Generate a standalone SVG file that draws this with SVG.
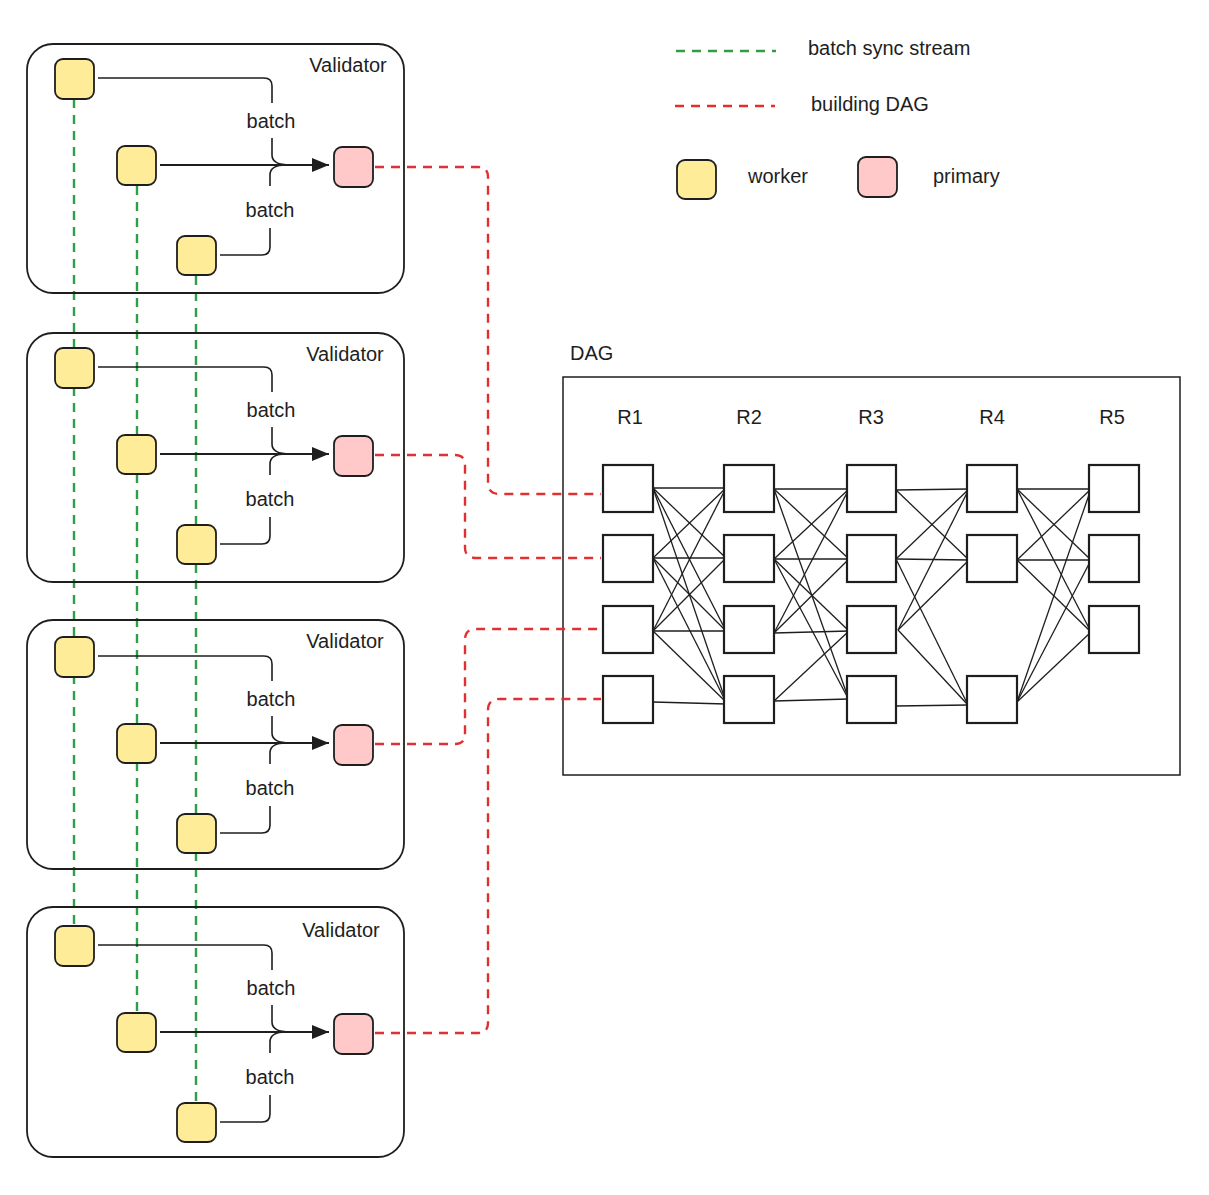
<svg xmlns="http://www.w3.org/2000/svg" width="1209" height="1195" viewBox="0 0 1209 1195">
<style>
text{font-family:"Liberation Sans","DejaVu Sans",sans-serif;fill:#1e1e1e;}
.lbl{font-size:20px;}
.vbox{fill:none;stroke:#1e1e1e;stroke-width:1.8;}
.worker{fill:#ffec99;stroke:#1e1e1e;stroke-width:1.8;}
.primary{fill:#ffc9c9;stroke:#1e1e1e;stroke-width:1.8;}
.dnode{fill:#ffffff;stroke:#1e1e1e;stroke-width:2.2;}
.frame{fill:none;stroke:#1e1e1e;stroke-width:1.5;}
.green{fill:none;stroke:#2f9e44;stroke-width:2.4;stroke-dasharray:9 7;}
.red{fill:none;stroke:#e03131;stroke-width:2.4;stroke-dasharray:9 7;}
.elbow{fill:none;stroke:#1e1e1e;stroke-width:1.6;}
.main{fill:none;stroke:#1e1e1e;stroke-width:2.2;}
.edge{stroke:#1e1e1e;stroke-width:1.3;}
</style>
<defs>
<marker id="bigah" markerWidth="18" markerHeight="16" refX="17" refY="8" orient="auto" markerUnits="userSpaceOnUse" viewBox="0 0 18 16">
<path d="M0,1 L17,8 L0,15 Z" fill="#1e1e1e"/>
</marker>
</defs>

<!-- Legend -->
<g id="legend">
<line x1="676" y1="51" x2="776" y2="51" class="green"/>
<text class="lbl" x="808" y="55">batch sync stream</text>
<line x1="675" y1="106" x2="775" y2="106" class="red"/>
<text class="lbl" x="811" y="111">building DAG</text>
<rect x="677" y="160" width="39" height="39" rx="8" class="worker"/>
<text class="lbl" x="748" y="183">worker</text>
<rect x="858" y="157" width="39" height="40" rx="8" class="primary"/>
<text class="lbl" x="933" y="183">primary</text>
</g>

<!-- DAG frame -->
<g id="dag">
<rect x="563" y="377" width="617" height="398" class="frame"/>
<text class="lbl" x="570" y="360">DAG</text>
<text class="lbl" x="630" y="424" text-anchor="middle" font-size="18">R1</text>
<text class="lbl" x="749" y="424" text-anchor="middle" font-size="18">R2</text>
<text class="lbl" x="871" y="424" text-anchor="middle" font-size="18">R3</text>
<text class="lbl" x="992" y="424" text-anchor="middle" font-size="18">R4</text>
<text class="lbl" x="1112" y="424" text-anchor="middle" font-size="18">R5</text>
</g>

<!-- Connectors -->
<g id="connectors">
<line x1="74" y1="99" x2="74" y2="926" class="green"/>
<line x1="137" y1="186" x2="137" y2="1011" class="green"/>
<line x1="196" y1="276" x2="196" y2="1102" class="green"/>
<path d="M375,167 H478 Q488,167 488,177 V483 Q488,494 500,494 H601" class="red"/>
<path d="M375,455 H455 Q465,455 465,465 V548 Q465,558 477,558 H601" class="red"/>
<path d="M375,744 H455 Q465,744 465,734 V640 Q465,629 476,629 H601" class="red"/>
<path d="M375,1033 H478 Q488,1033 488,1023 V710 Q488,699 500,699 H601" class="red"/>
<g id="v1-arrows">
<path d="M98,78 H264 Q272,78 272,86 V103" class="elbow"/>
<path d="M272,138 V155 Q272,165 290,165" class="elbow"/>
<path d="M220,255 H262 Q270,255 270,247 V228" class="elbow"/>
<path d="M270,186 V175 Q270,165 286,165" class="elbow"/>
<line x1="160" y1="165" x2="329" y2="165" class="main" marker-end="url(#bigah)"/>
<text class="lbl" x="271" y="128" text-anchor="middle">batch</text>
<text class="lbl" x="270" y="217" text-anchor="middle">batch</text>
</g>
<g id="v2-arrows" transform="translate(0,289)">
<path d="M98,78 H264 Q272,78 272,86 V103" class="elbow"/>
<path d="M272,138 V155 Q272,165 290,165" class="elbow"/>
<path d="M220,255 H262 Q270,255 270,247 V228" class="elbow"/>
<path d="M270,186 V175 Q270,165 286,165" class="elbow"/>
<line x1="160" y1="165" x2="329" y2="165" class="main" marker-end="url(#bigah)"/>
<text class="lbl" x="271" y="128" text-anchor="middle">batch</text>
<text class="lbl" x="270" y="217" text-anchor="middle">batch</text>
</g>
<g id="v3-arrows" transform="translate(0,578)">
<path d="M98,78 H264 Q272,78 272,86 V103" class="elbow"/>
<path d="M272,138 V155 Q272,165 290,165" class="elbow"/>
<path d="M220,255 H262 Q270,255 270,247 V228" class="elbow"/>
<path d="M270,186 V175 Q270,165 286,165" class="elbow"/>
<line x1="160" y1="165" x2="329" y2="165" class="main" marker-end="url(#bigah)"/>
<text class="lbl" x="271" y="128" text-anchor="middle">batch</text>
<text class="lbl" x="270" y="217" text-anchor="middle">batch</text>
</g>
<g id="v4-arrows" transform="translate(0,867)">
<path d="M98,78 H264 Q272,78 272,86 V103" class="elbow"/>
<path d="M272,138 V155 Q272,165 290,165" class="elbow"/>
<path d="M220,255 H262 Q270,255 270,247 V228" class="elbow"/>
<path d="M270,186 V175 Q270,165 286,165" class="elbow"/>
<line x1="160" y1="165" x2="329" y2="165" class="main" marker-end="url(#bigah)"/>
<text class="lbl" x="271" y="128" text-anchor="middle">batch</text>
<text class="lbl" x="270" y="217" text-anchor="middle">batch</text>
</g>
<g id="dag-edges">
<line class="edge" x1="653" y1="488" x2="726" y2="488"/>
<line class="edge" x1="653" y1="488" x2="726" y2="558"/>
<line class="edge" x1="653" y1="488" x2="726" y2="631"/>
<line class="edge" x1="653" y1="488" x2="726" y2="702"/>
<line class="edge" x1="653" y1="558" x2="726" y2="488"/>
<line class="edge" x1="653" y1="558" x2="726" y2="558"/>
<line class="edge" x1="653" y1="558" x2="726" y2="631"/>
<line class="edge" x1="653" y1="558" x2="726" y2="702"/>
<line class="edge" x1="653" y1="631" x2="726" y2="488"/>
<line class="edge" x1="653" y1="631" x2="726" y2="558"/>
<line class="edge" x1="653" y1="631" x2="726" y2="631"/>
<line class="edge" x1="653" y1="631" x2="726" y2="702"/>
<line class="edge" x1="653" y1="702" x2="726" y2="704"/>
<line class="edge" x1="774" y1="489" x2="849" y2="489"/>
<line class="edge" x1="774" y1="489" x2="849" y2="559"/>
<line class="edge" x1="774" y1="489" x2="849" y2="700"/>
<line class="edge" x1="774" y1="559" x2="849" y2="489"/>
<line class="edge" x1="774" y1="559" x2="849" y2="559"/>
<line class="edge" x1="774" y1="559" x2="849" y2="631"/>
<line class="edge" x1="774" y1="559" x2="849" y2="700"/>
<line class="edge" x1="774" y1="633" x2="849" y2="489"/>
<line class="edge" x1="774" y1="633" x2="849" y2="559"/>
<line class="edge" x1="774" y1="633" x2="849" y2="631"/>
<line class="edge" x1="774" y1="701" x2="849" y2="631"/>
<line class="edge" x1="774" y1="701" x2="849" y2="699"/>
<line class="edge" x1="896" y1="490" x2="969" y2="489"/>
<line class="edge" x1="896" y1="490" x2="969" y2="560"/>
<line class="edge" x1="896" y1="559" x2="969" y2="489"/>
<line class="edge" x1="896" y1="559" x2="969" y2="560"/>
<line class="edge" x1="896" y1="559" x2="968" y2="705"/>
<line class="edge" x1="898" y1="630" x2="969" y2="489"/>
<line class="edge" x1="898" y1="630" x2="969" y2="560"/>
<line class="edge" x1="898" y1="630" x2="968" y2="705"/>
<line class="edge" x1="896" y1="706" x2="968" y2="705"/>
<line class="edge" x1="1017" y1="489" x2="1091" y2="489"/>
<line class="edge" x1="1017" y1="489" x2="1091" y2="560"/>
<line class="edge" x1="1017" y1="489" x2="1091" y2="632"/>
<line class="edge" x1="1017" y1="560" x2="1091" y2="489"/>
<line class="edge" x1="1017" y1="560" x2="1091" y2="560"/>
<line class="edge" x1="1017" y1="560" x2="1091" y2="632"/>
<line class="edge" x1="1017" y1="702" x2="1091" y2="489"/>
<line class="edge" x1="1017" y1="702" x2="1091" y2="560"/>
<line class="edge" x1="1017" y1="702" x2="1091" y2="632"/>
</g>
</g>

<!-- Validators -->
<g id="validator-1">
<rect x="27" y="44" width="377" height="249" rx="26" class="vbox"/>
<text class="lbl" x="348" y="72" text-anchor="middle">Validator</text>
<g id="v1-worker-1"><rect x="55" y="59" width="39" height="40" rx="8" class="worker"/></g>
<g id="v1-worker-2"><rect x="117" y="146" width="39" height="39" rx="8" class="worker"/></g>
<g id="v1-worker-3"><rect x="177" y="236" width="39" height="39" rx="8" class="worker"/></g>
<g id="v1-primary"><rect x="334" y="147" width="39" height="40" rx="8" class="primary"/></g>
</g>
<g id="validator-2" transform="translate(0,289)">
<rect x="27" y="44" width="377" height="249" rx="26" class="vbox"/>
<text class="lbl" x="345" y="72" text-anchor="middle">Validator</text>
<g id="v2-worker-1"><rect x="55" y="59" width="39" height="40" rx="8" class="worker"/></g>
<g id="v2-worker-2"><rect x="117" y="146" width="39" height="39" rx="8" class="worker"/></g>
<g id="v2-worker-3"><rect x="177" y="236" width="39" height="39" rx="8" class="worker"/></g>
<g id="v2-primary"><rect x="334" y="147" width="39" height="40" rx="8" class="primary"/></g>
</g>
<g id="validator-3" transform="translate(0,578)">
<rect x="27" y="42" width="377" height="249" rx="26" class="vbox"/>
<text class="lbl" x="345" y="70" text-anchor="middle">Validator</text>
<g id="v3-worker-1"><rect x="55" y="59" width="39" height="40" rx="8" class="worker"/></g>
<g id="v3-worker-2"><rect x="117" y="146" width="39" height="39" rx="8" class="worker"/></g>
<g id="v3-worker-3"><rect x="177" y="236" width="39" height="39" rx="8" class="worker"/></g>
<g id="v3-primary"><rect x="334" y="147" width="39" height="40" rx="8" class="primary"/></g>
</g>
<g id="validator-4" transform="translate(0,867)">
<rect x="27" y="40" width="377" height="250" rx="26" class="vbox"/>
<text class="lbl" x="341" y="70" text-anchor="middle">Validator</text>
<g id="v4-worker-1"><rect x="55" y="59" width="39" height="40" rx="8" class="worker"/></g>
<g id="v4-worker-2"><rect x="117" y="146" width="39" height="39" rx="8" class="worker"/></g>
<g id="v4-worker-3"><rect x="177" y="236" width="39" height="39" rx="8" class="worker"/></g>
<g id="v4-primary"><rect x="334" y="147" width="39" height="40" rx="8" class="primary"/></g>
</g>

<!-- DAG nodes -->
<g id="r1-n1"><rect x="603" y="465" width="50" height="47" class="dnode"/></g>
<g id="r1-n2"><rect x="603" y="535" width="50" height="47" class="dnode"/></g>
<g id="r1-n3"><rect x="603" y="606" width="50" height="47" class="dnode"/></g>
<g id="r1-n4"><rect x="603" y="676" width="50" height="47" class="dnode"/></g>
<g id="r2-n1"><rect x="724" y="465" width="50" height="47" class="dnode"/></g>
<g id="r2-n2"><rect x="724" y="535" width="50" height="47" class="dnode"/></g>
<g id="r2-n3"><rect x="724" y="606" width="50" height="47" class="dnode"/></g>
<g id="r2-n4"><rect x="724" y="676" width="50" height="47" class="dnode"/></g>
<g id="r3-n1"><rect x="847" y="465" width="49" height="47" class="dnode"/></g>
<g id="r3-n2"><rect x="847" y="535" width="49" height="47" class="dnode"/></g>
<g id="r3-n3"><rect x="847" y="606" width="49" height="47" class="dnode"/></g>
<g id="r3-n4"><rect x="847" y="676" width="49" height="47" class="dnode"/></g>
<g id="r4-n1"><rect x="967" y="465" width="50" height="47" class="dnode"/></g>
<g id="r4-n2"><rect x="967" y="535" width="50" height="47" class="dnode"/></g>
<g id="r4-n4"><rect x="967" y="676" width="50" height="47" class="dnode"/></g>
<g id="r5-n1"><rect x="1089" y="465" width="50" height="47" class="dnode"/></g>
<g id="r5-n2"><rect x="1089" y="535" width="50" height="47" class="dnode"/></g>
<g id="r5-n3"><rect x="1089" y="606" width="50" height="47" class="dnode"/></g>
</svg>
